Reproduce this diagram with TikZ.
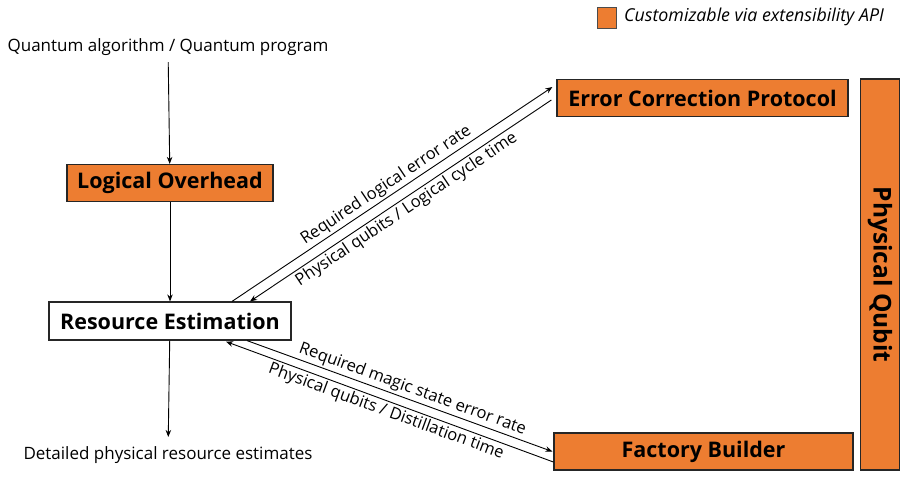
\documentclass[tikz,border=0pt]{standalone}
\usepackage{fontspec}
\setmainfont{Open Sans}
\usetikzlibrary{arrows.meta,positioning,calc}
\definecolor{qorange}{HTML}{ED7D31}

\begin{document}
\begin{tikzpicture}[x=1pt, y=-1pt,
        every node/.style={font=\fontsize{17}{20}\selectfont},
        block/.style={draw=black!85, line width=1.2pt, fill=qorange, minimum height=37pt,
          inner sep=2pt, font=\fontsize{21.5}{24}\selectfont\bfseries},
        plainblock/.style={block, fill=white},
        flow/.style={-{Stealth[length=7pt,width=5.5pt]}, line width=0.9pt},
        edgetext/.style={font=\fontsize{16.5}{19}\selectfont, inner sep=2pt}
      ]
        % feste Bildgroesse
        \useasboundingbox (0,0) rectangle (904,488);

        % Legende
        \node[draw=black!70, line width=1pt, fill=qorange, minimum width=19pt, minimum height=21pt, inner sep=0pt] (key) at (606.5,17.5) {};
        \node[anchor=west, inner sep=0pt, font=\fontsize{17.8}{20}\selectfont\itshape] (keytext) at (624,17) {Customizable via extensibility API};

        % Ein- und Ausgabe
        \node (input) at (168,47) {Quantum algorithm / Quantum program};
        \node (output) at (168,455) {Detailed physical resource estimates};

        % Bloecke
        \node[block, minimum width=206pt] (lo) at (170,183) {Logical Overhead};
        \node[plainblock, minimum width=242pt, minimum height=38pt] (re) at (170,321) {Resource Estimation};
        \node[block, minimum width=291pt] (ecp) at (702.5,98) {Error Correction Protocol};
        \node[block, minimum width=299pt] (fb) at (703.5,451.5) {Factory Builder};
        \node[block, rotate=-90, minimum width=391pt, minimum height=39pt, font=\fontsize{24.5}{26}\selectfont\bfseries] (pq) at (880,274.5) {Physical Qubit};

        % senkrechter Fluss
        \draw[flow, shorten <=3pt] (input) -- (lo);
        \draw[flow] (lo) -- (re);
        \draw[flow, shorten >=6pt] (re) -- (output);

        % Fehlerkorrektur
        \draw[flow] ($(re.north)+(62,0)$) -- ($(ecp.west)+(-4,-11)$)
          node[midway, sloped, above, edgetext] {Required logical error rate};
        \draw[flow] ($(ecp.west)+(-5,2)$) -- ($(re.north)+(80,0)$)
          node[midway, sloped, below, edgetext] {Physical qubits / Logical cycle time};

        % Fabrik
        \draw[flow] ($(re.south)+(77,0)$) -- ($(fb.west)+(-1,0)$)
          node[pos=0.53, sloped, above, edgetext] {Required magic state error rate};
        \draw[flow] ($(fb.west)+(0,10.5)$) -- ($(re.south)+(56,1)$)
          node[midway, sloped, below, edgetext] {Physical qubits / Distillation time};
      \end{tikzpicture}
\end{document}
